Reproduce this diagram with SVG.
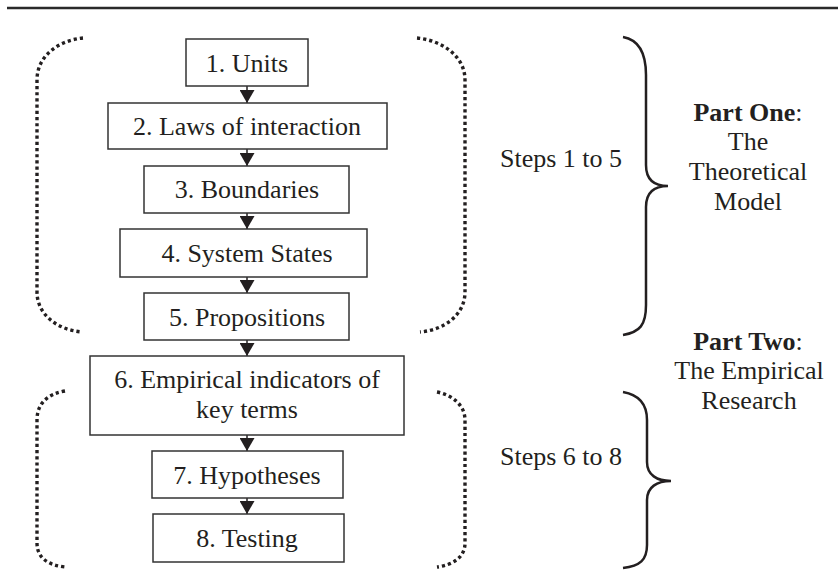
<svg xmlns="http://www.w3.org/2000/svg" width="838" height="586" viewBox="0 0 838 586">
<style>
.box{fill:#fff;stroke:#333;stroke-width:1.5}
.t{font-family:"Liberation Serif","Times New Roman",serif;font-size:26px;fill:#231f20;text-anchor:middle}
.ts{font-family:"Liberation Serif","Times New Roman",serif;font-size:26px;fill:#231f20}
.dot{fill:none;stroke:#231f20;stroke-width:3.4;stroke-dasharray:3.2 3}
.brace{fill:none;stroke:#231f20;stroke-width:2.5}
.conn{stroke:#231f20;stroke-width:1.5;marker-end:url(#ah)}
</style>
<defs>
<marker id="ah" markerUnits="userSpaceOnUse" viewBox="0 0 13 15" markerWidth="13" markerHeight="15" refX="13" refY="7.5" orient="auto">
<path d="M0,0 L13,7.5 L0,15 z" fill="#231f20"/>
</marker>
</defs>
<rect width="838" height="586" fill="#fff"/>
<line x1="7" y1="8" x2="838" y2="8" stroke="#2a2a2a" stroke-width="2.6"/>

<g id="connectors">
<line class="conn" x1="247" y1="86" x2="247" y2="103"/>
<line class="conn" x1="247" y1="149" x2="247" y2="166"/>
<line class="conn" x1="247" y1="213" x2="247" y2="229"/>
<line class="conn" x1="247" y1="277" x2="247" y2="293"/>
<line class="conn" x1="247" y1="340" x2="247" y2="356"/>
<line class="conn" x1="247" y1="435" x2="247" y2="451"/>
<line class="conn" x1="247" y1="498" x2="247" y2="514"/>
</g>

<g id="n1"><rect class="box" x="186" y="39" width="122" height="47"/><text class="t" x="247" y="72">1. Units</text></g>
<g id="n2"><rect class="box" x="108" y="103" width="279" height="46"/><text class="t" x="247" y="135">2. Laws of interaction</text></g>
<g id="n3"><rect class="box" x="144" y="166" width="205" height="47"/><text class="t" x="247" y="198">3. Boundaries</text></g>
<g id="n4"><rect class="box" x="120" y="229" width="247" height="48"/><text class="t" x="247" y="262">4. System States</text></g>
<g id="n5"><rect class="box" x="144" y="293" width="205" height="47"/><text class="t" x="247" y="326">5. Propositions</text></g>
<g id="n6"><rect class="box" x="90" y="356" width="314" height="79"/><text class="t" x="247" y="388">6. Empirical indicators of</text><text class="t" x="247" y="418">key terms</text></g>
<g id="n7"><rect class="box" x="152" y="451" width="191" height="47"/><text class="t" x="247" y="484">7. Hypotheses</text></g>
<g id="n8"><rect class="box" x="153" y="514" width="191" height="48"/><text class="t" x="247" y="547">8. Testing</text></g>

<g id="brackets">
<path class="dot" d="M83,38 C60,40 37,55 37,80 L37,292 C37,315 58,330 82,332"/>
<path class="dot" d="M417,38 C440,40 465,55 465,80 L465,292 C465,315 444,330 420,332"/>
<path class="dot" d="M65,391 C48,394 37,403 37,420 L37,543 C37,558 48,565 65,567"/>
<path class="dot" d="M437,392 C452,395 465,405 465,420 L465,543 C465,558 452,565 437,567"/>
</g>

<g id="braces">
<path class="brace" d="M623,37 C640,40 646,55 646,75 L646,165 C646,180 655,186 668,186 C655,186 646,192 646,207 L646,305 C646,325 640,332 623,335"/>
<path class="brace" d="M623,392 C640,395 647,405 647,420 L647,462 C647,475 657,481 671,481 C657,481 647,487 647,500 L647,545 C647,560 640,566 623,568"/>
</g>

<g id="labels">
<text class="ts" x="500" y="167">Steps 1 to 5</text>
<text class="ts" x="500" y="465">Steps 6 to 8</text>
<text class="t" x="748" y="121"><tspan font-weight="bold">Part One</tspan>:</text>
<text class="t" x="748" y="150">The</text>
<text class="t" x="748" y="180">Theoretical</text>
<text class="t" x="748" y="210">Model</text>
<text class="t" x="748" y="350"><tspan font-weight="bold">Part Two</tspan>:</text>
<text class="t" x="749" y="379">The Empirical</text>
<text class="t" x="749" y="409">Research</text>
</g>
</svg>
